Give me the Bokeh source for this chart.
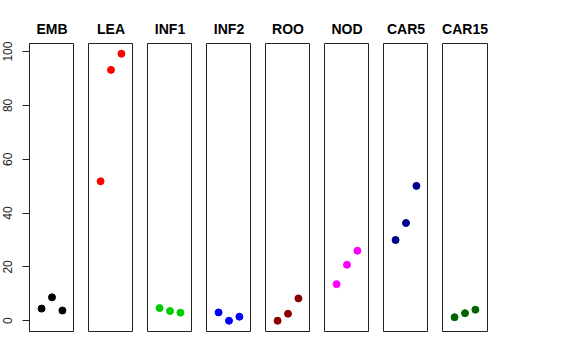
from bokeh.plotting import figure
from bokeh.layouts import row
from bokeh.models import Range1d, FixedTicker, ColumnDataSource
from bokeh.embed import file_html
from bokeh.resources import INLINE

panels = ["EMB", "LEA", "INF1", "INF2", "ROO", "NOD", "CAR5", "CAR15"]
colors = ["#000000", "#FF0000", "#00CD00", "#0000FF", "#8B0000", "#FF00FF", "#00008B", "#006400"]
xpos = [1, 2, 3]
values = {
    "EMB": [4.5, 8.7, 3.8],
    "LEA": [51.8, 93.2, 99.2],
    "INF1": [4.7, 3.6, 3.0],
    "INF2": [3.1, 0.0, 1.5],
    "ROO": [0.0, 2.6, 8.3],
    "NOD": [13.6, 20.8, 26.0],
    "CAR5": [30.0, 36.3, 50.1],
    "CAR15": [1.3, 2.8, 4.1],
}
yticks = [0, 20, 40, 60, 80, 100]

FRAME_W = 45
FRAME_H = 288
TOP = 43
BOTTOM = 20
figs = []
for i, name in enumerate(panels):
    first = i == 0
    last = i == len(panels) - 1
    left = 29 if first else 14
    right = 12 if last else 0
    p = figure(width=left + FRAME_W + right, height=TOP + FRAME_H + BOTTOM,
               output_backend="svg", toolbar_location=None,
               x_range=Range1d(-0.16, 4.16), y_range=Range1d(-4.0, 103.0),
               min_border_left=left, min_border_right=right,
               min_border_top=TOP, min_border_bottom=BOTTOM)
    p.title.text = name
    p.title.align = "center"
    p.title.text_font = "Liberation Sans"
    p.title.text_font_style = "bold"
    p.title.text_font_size = "14px"
    p.title.text_color = "#000000"
    p.title.standoff = 14
    p.xaxis.visible = False
    p.xgrid.visible = False
    p.ygrid.visible = False
    p.outline_line_color = "#222222"
    p.outline_line_width = 1
    p.background_fill_color = "white"
    p.border_fill_color = "white"
    if first:
        p.yaxis.ticker = FixedTicker(ticks=yticks)
        p.yaxis.major_label_orientation = "vertical"
        p.yaxis.major_label_text_font = "Liberation Sans"
        p.yaxis.major_label_text_font_size = "12px"
        p.yaxis.major_label_text_color = "#222222"
        p.yaxis.major_tick_out = 7
        p.yaxis.major_tick_in = 0
        p.yaxis.minor_tick_line_color = None
        p.yaxis.major_label_standoff = 10
        p.yaxis.axis_line_color = "#222222"
        p.yaxis.major_tick_line_color = "#222222"
    else:
        p.yaxis.visible = False
    src = ColumnDataSource(dict(x=xpos, y=values[name]))
    p.scatter("x", "y", source=src, size=7, color=colors[i], line_color=colors[i])
    figs.append(p)

layout = row(*figs, spacing=0)
open("out.html", "w").write(file_html(layout, INLINE))
